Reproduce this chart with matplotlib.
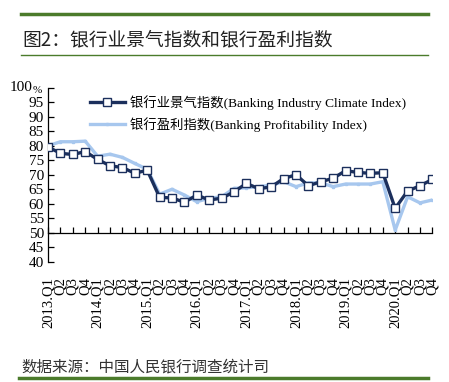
import matplotlib
matplotlib.use("Agg")
import matplotlib.pyplot as plt
from matplotlib.lines import Line2D

plt.rcParams['font.family'] = ['Liberation Serif', 'Noto Sans CJK SC']

quarters = [f"{y}.Q1" if q == 1 else f"Q{q}" for y in range(2013, 2021) for q in range(1, 5)]
climate = [79.6, 77.4, 77.0, 78.0, 75.3, 73.1, 72.5, 70.5, 71.6, 62.2, 62.0, 60.5,
           63.0, 61.3, 61.9, 64.1, 67.0, 65.2, 65.8, 68.7, 70.0, 66.2, 67.6, 68.8,
           71.4, 70.8, 70.5, 70.7, 58.4, 64.4, 66.2, 68.4]
profit = [80.0, 81.4, 81.4, 81.6, 76.4, 77.1, 76.0, 73.9, 71.9, 63.3, 65.0, 63.0,
          60.7, 61.9, 62.4, 65.3, 65.5, 65.9, 66.4, 67.6, 65.9, 67.2, 67.2, 65.9,
          66.8, 66.8, 66.8, 67.6, 50.9, 62.4, 60.3, 61.3]
yticks = list(range(40, 101, 5))

dark = '#1b2f5c'
light = '#a7c7ee'
green = '#4b7b2b'

fig = plt.figure(figsize=(4.49, 3.82), dpi=100)
ax = fig.add_axes([0.107, 0.315, 0.856, 0.455])
x = range(len(quarters))

ax.plot(x, profit, color=light, lw=2.4, marker='s', ms=2, label="银行盈利指数(Banking Profitability Index)", zorder=2)
ax.plot(x, climate, color=dark, lw=2.4, marker='s', ms=5.5, mfc='white', mec=dark, mew=1,
        label="银行业景气指数(Banking Industry Climate Index)", zorder=3)

ax.set_xlim(0, len(quarters) - 1)
ax.set_ylim(40, 100)
ax.spines['top'].set_visible(False)
ax.spines['right'].set_visible(False)
ax.spines['bottom'].set_position(('data', 50))
ax.spines['left'].set_linewidth(0.9)
ax.spines['bottom'].set_linewidth(0.9)

ax.set_xticks(list(x))
ax.tick_params(axis='x', direction='in', length=4, width=0.9, labelbottom=False)
ax.set_yticks(yticks)
ax.set_yticklabels([str(v) if v != 100 else '' for v in yticks], fontsize=11)
ax.tick_params(axis='y', direction='in', length=4, width=0.9, pad=3)
ax.annotate('100', xy=(0, 100), xycoords=('axes fraction', 'data'), xytext=(-11, 0),
            textcoords='offset points', ha='right', va='center', fontsize=11)
ax.annotate('%', xy=(0, 100), xycoords=('axes fraction', 'data'), xytext=(-11, -2),
            textcoords='offset points', ha='left', va='center', fontsize=8)

sec = ax.secondary_xaxis(0)
sec.set_xticks(list(x))
sec.set_xticklabels(quarters, rotation=90, fontsize=10.5)
sec.tick_params(length=0, pad=11)
sec.spines['bottom'].set_visible(False)

handles, labels = ax.get_legend_handles_labels()
ax.legend(handles[::-1], labels[::-1], loc='upper left', bbox_to_anchor=(0.095, 0.99),
          frameon=False, fontsize=9.6, handlelength=2.6, handletextpad=0.4,
          labelspacing=0.55, borderaxespad=0)

fig.add_artist(Line2D([0.047, 0.953], [0.963, 0.963], color=green, lw=2.5, transform=fig.transFigure))
fig.add_artist(Line2D([0.047, 0.953], [0.856, 0.856], color=green, lw=1, transform=fig.transFigure))
fig.add_artist(Line2D([0.042, 0.953], [0.011, 0.011], color=green, lw=2.5, transform=fig.transFigure))
fig.text(0.049, 0.895, "图2：银行业景气指数和银行盈利指数", fontsize=13.5, color='#222222',
         family=['Noto Sans CJK SC'], ha='left', va='center')
fig.text(0.047, 0.04, "数据来源：中国人民银行调查统计司", fontsize=11.2, color='#333333',
         family=['Noto Sans CJK SC'], ha='left', va='center')

fig.savefig('out.png', dpi=100)
